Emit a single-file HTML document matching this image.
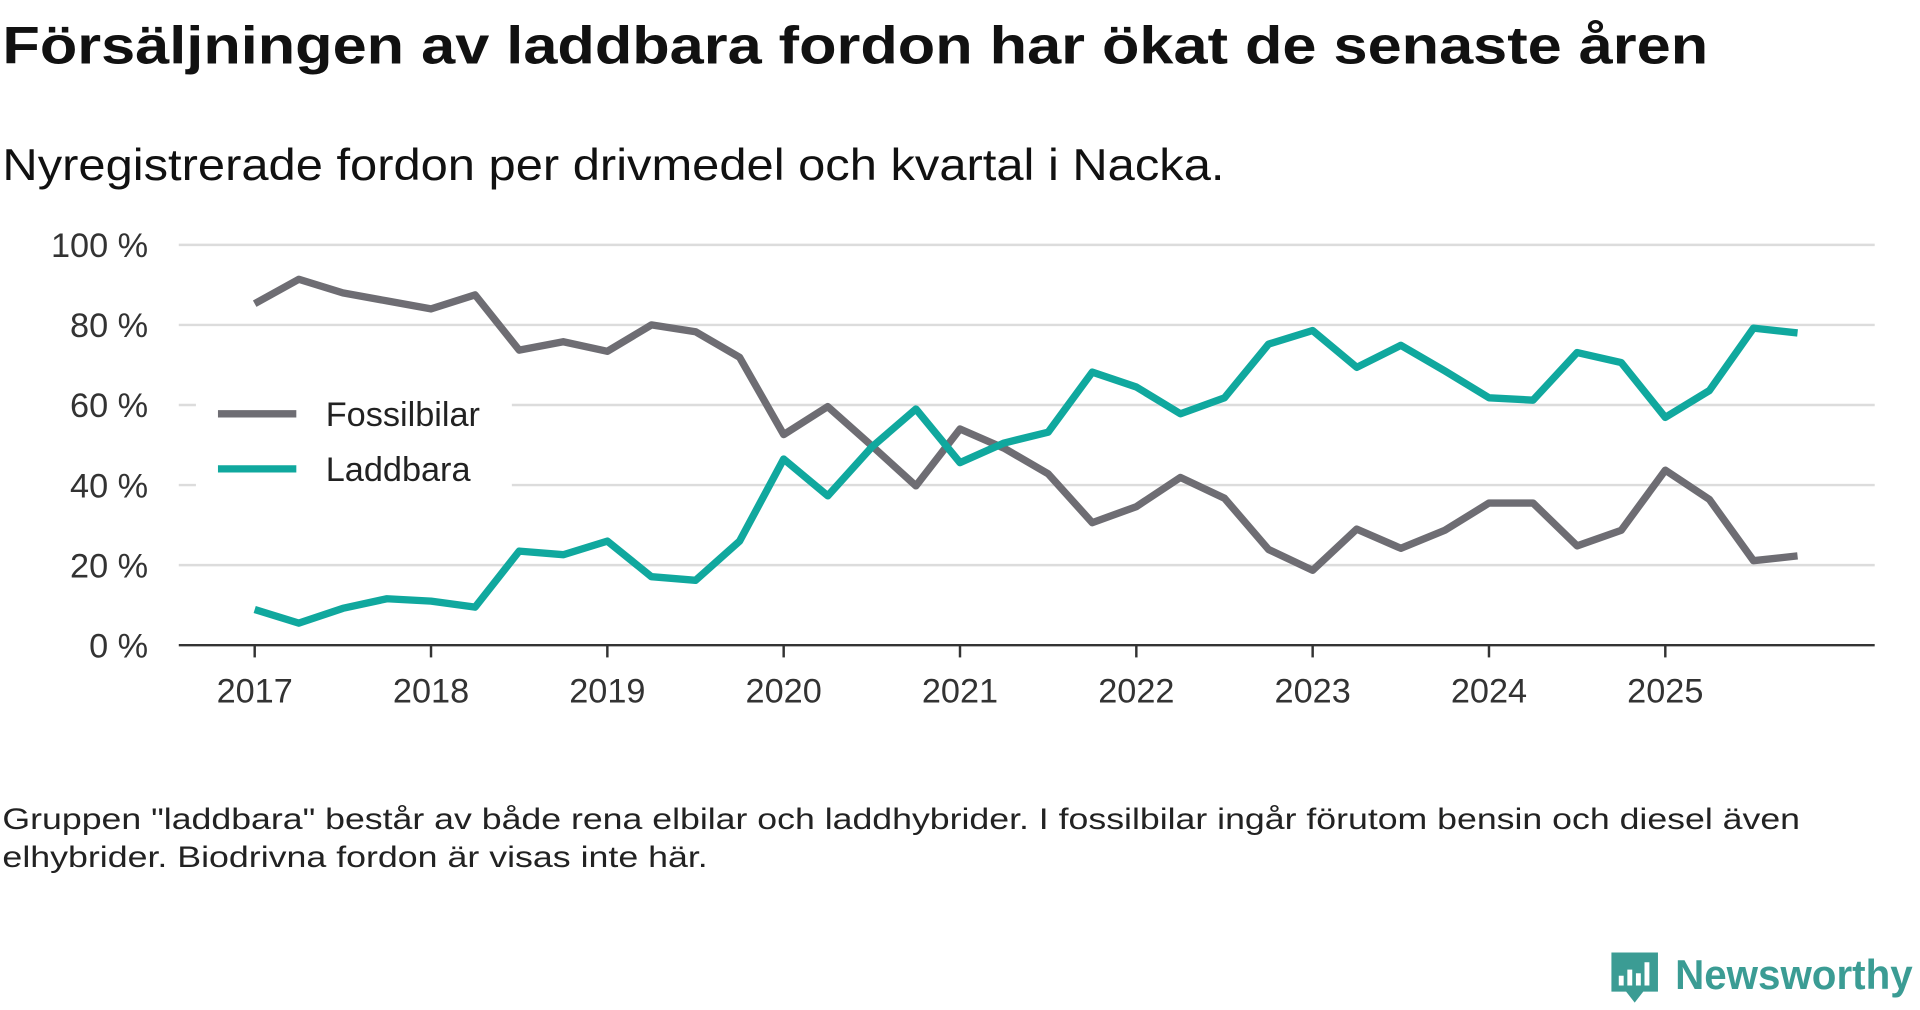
<!DOCTYPE html>
<html><head><meta charset="utf-8"><style>
html,body{margin:0;padding:0;background:#fff;}
svg{display:block;font-family:"Liberation Sans",sans-serif;}
</style></head><body>
<svg id="chart" width="1920" height="1010" viewBox="0 0 1568 825" preserveAspectRatio="none">
<text x="2" y="52" font-size="43" font-weight="bold" fill="#111" textLength="1393" lengthAdjust="spacingAndGlyphs">Försäljningen av laddbara fordon har ökat de senaste åren</text>
<text x="2" y="147" font-size="36" fill="#111" textLength="998" lengthAdjust="spacingAndGlyphs">Nyregistrerade fordon per drivmedel och kvartal i Nacka.</text>
<g id="grid"></g><g id="yt"></g><g id="xt"></g><g id="lines"></g>
<g>
<rect x="160" y="305" width="258" height="100" fill="#fff"/>
<line x1="178" y1="338" x2="242" y2="338" stroke="#6e6d73" stroke-width="6"/>
<text x="266" y="348" font-size="28" fill="#222">Fossilbilar</text>
<line x1="178" y1="383" x2="242" y2="383" stroke="#10a89e" stroke-width="6"/>
<text x="266" y="393" font-size="28" fill="#222">Laddbara</text>
</g>
<text x="2" y="677" font-size="24" fill="#222" textLength="1468" lengthAdjust="spacingAndGlyphs">Gruppen "laddbara" består av både rena elbilar och laddhybrider. I fossilbilar ingår förutom bensin och diesel även</text>
<text x="2" y="708" font-size="24" fill="#222" textLength="576" lengthAdjust="spacingAndGlyphs">elhybrider. Biodrivna fordon är visas inte här.</text>
<g>
<path d="M1316 778 h38 v32 h-12 l-7 9 l-7 -9 h-12 z" fill="#3b9c94"/>
<rect x="1322" y="797" width="4" height="8" fill="#fff"/><rect x="1329" y="792" width="4" height="13" fill="#fff"/><rect x="1336" y="795" width="4" height="10" fill="#fff"/><rect x="1343" y="786" width="4" height="19" fill="#fff"/>
<text x="1368" y="808" font-size="34" font-weight="bold" fill="#3b9c94" textLength="194" lengthAdjust="spacingAndGlyphs">Newsworthy</text>
</g>
</svg>
<script>
const years=[2017,2018,2019,2020,2021,2022,2023,2024,2025];
const yTicks=[0,20,40,60,80,100];
const fossil=[85.3,91.4,88,86,84,87.5,73.7,75.8,73.4,80,78.3,71.9,52.6,59.6,49.8,39.8,54,49.2,42.8,30.6,34.6,41.9,36.7,23.9,18.7,29,24.2,28.7,35.5,35.5,24.8,28.7,43.7,36.4,21.1,22.3];
const laddbara=[8.9,5.5,9.2,11.6,11,9.5,23.5,22.6,26,17.1,16.2,26,46.5,37.3,49.5,59,45.6,50.5,53.2,68.2,64.5,57.8,61.8,75.2,78.6,69.4,74.9,68.5,61.8,61.2,73.1,70.6,56.9,63.6,79.2,78];
const NS="http://www.w3.org/2000/svg";
const x=i=>208+36*i;
const xy=yr=>208+144*(yr-2017);
const y=v=>527-3.27*v;
function mk(t,a,p){const e=document.createElementNS(NS,t);for(const k in a)e.setAttribute(k,a[k]);document.getElementById(p).appendChild(e);return e;}
yTicks.forEach(v=>{
 if(v>0){const g=mk('line',{x1:146,x2:1531,y1:y(v),y2:y(v),stroke:'#dcdcdc','stroke-width':2},'grid');
 
 }
 const t=mk('text',{x:121,y:y(v)+10,'font-size':28,fill:'#333','text-anchor':'end'},'yt');t.textContent=v+' %';
 
 
});
const ax=mk('line',{x1:146,x2:1531,y1:527,y2:527,stroke:'#333','stroke-width':2},'grid');


years.forEach(yr=>{
 const k=mk('line',{x1:xy(yr),x2:xy(yr),y1:527,y2:537,stroke:'#333','stroke-width':2},'xt');
 
 
 const t=mk('text',{x:xy(yr),y:574,'font-size':28,fill:'#333','text-anchor':'middle'},'xt');t.textContent=yr;
 
 
});
function line(d,c,n){const p=mk('polyline',{points:d.map((v,i)=>x(i)+','+y(v)).join(' '),fill:'none',stroke:c,'stroke-width':6,'stroke-linejoin':'round'},'lines');
 
 }
line(fossil,'#6e6d73','fossilbilar-line');
line(laddbara,'#10a89e','laddbara-line');
</script>
</body></html>
